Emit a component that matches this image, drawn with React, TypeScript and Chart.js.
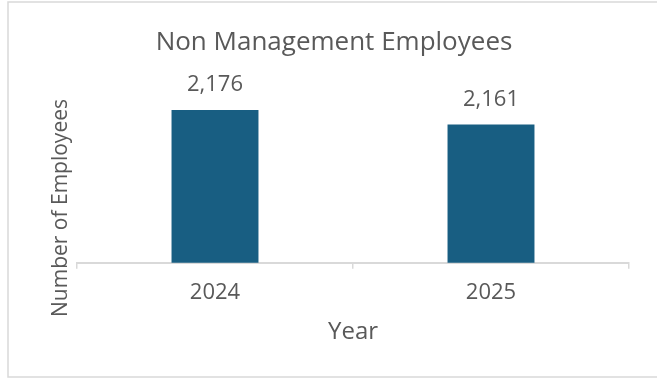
import React, { useEffect, useRef } from "react";
import { Chart, registerables } from "chart.js";

Chart.register(...registerables);

// Headcount of non-management staff by year
const years = ["2024", "2025"];
const employees = [2176, 2161];

const axisMin = 2020;
const axisMax = 2180;

const chartTitle = "Non Management Employees";
const xAxisTitle = "Year";
const yAxisTitle = "Number of Employees";

const FONT = "'Open Sans', 'Liberation Sans', sans-serif";
const TEXT = "#595959";
const BAR = "#185e82";
const LINE = "#d9d9d9";

const fmt = (v: number) => v.toLocaleString("en-US");

// Light frame around the whole chart
const framePlugin = {
  id: "frame",
  beforeDraw(chart: any) {
    const { ctx } = chart;
    ctx.save();
    ctx.fillStyle = "#ffffff";
    ctx.fillRect(0, 0, chart.width, chart.height);
    ctx.strokeStyle = LINE;
    ctx.lineWidth = 1.5;
    ctx.strokeRect(8, 2, chart.width + 20, 375);
    ctx.restore();
  },
};

// Chart heading, centred on the framed card rather than the plot area
const headingPlugin = {
  id: "heading",
  afterDraw(chart: any) {
    const { ctx } = chart;
    ctx.save();
    ctx.font = `26px ${FONT}`;
    ctx.fillStyle = TEXT;
    ctx.textAlign = "center";
    ctx.textBaseline = "middle";
    ctx.fillText(chartTitle, 334, 43);
    ctx.restore();
  },
};

// Value labels above each bar
const valueLabelPlugin = {
  id: "valueLabels",
  afterDatasetsDraw(chart: any) {
    const { ctx } = chart;
    const meta = chart.getDatasetMeta(0);
    ctx.save();
    ctx.font = `22px ${FONT}`;
    ctx.fillStyle = TEXT;
    ctx.textAlign = "center";
    ctx.textBaseline = "middle";
    meta.data.forEach((bar: any, i: number) => {
      const v = chart.data.datasets[0].data[i] as number;
      ctx.fillText(fmt(v), bar.x, bar.y - 25);
    });
    ctx.restore();
  },
};

// Rotated y-axis title, placed beside the plot
const yTitlePlugin = {
  id: "yTitle",
  afterDraw(chart: any) {
    const { ctx } = chart;
    ctx.save();
    ctx.translate(61, 208);
    ctx.rotate(-Math.PI / 2);
    ctx.font = `21px ${FONT}`;
    ctx.fillStyle = TEXT;
    ctx.textAlign = "center";
    ctx.textBaseline = "middle";
    ctx.fillText(yAxisTitle, 0, 0);
    ctx.restore();
  },
};

export default function App() {
  const canvasRef = useRef<HTMLCanvasElement | null>(null);

  useEffect(() => {
    if (!canvasRef.current) return;
    const chart = new Chart(canvasRef.current, {
      type: "bar",
      data: {
        labels: years,
        datasets: [
          {
            data: employees,
            backgroundColor: BAR,
            categoryPercentage: 1,
            barPercentage: 0.315,
          },
        ],
      },
      options: {
        responsive: false,
        animation: false,
        devicePixelRatio: 1,
        layout: { padding: { left: 77, right: 28, top: 106, bottom: 34 } },
        plugins: {
          legend: { display: false },
          tooltip: { enabled: false },
          title: { display: false },
        },
        scales: {
          x: {
            grid: {
              display: true,
              drawOnChartArea: false,
              drawTicks: true,
              tickLength: 6,
              color: LINE,
              lineWidth: 1.5,
              offset: true,
            },
            border: { display: true, color: LINE, width: 2 },
            ticks: {
              color: TEXT,
              font: { family: FONT, size: 22 },
              padding: 11,
            },
            title: {
              display: true,
              text: xAxisTitle,
              color: TEXT,
              font: { family: FONT, size: 24 },
              padding: { top: 1, bottom: 0 },
            },
          },
          y: {
            display: false,
            min: axisMin,
            max: axisMax,
          },
        },
      },
      plugins: [framePlugin, headingPlugin, valueLabelPlugin, yTitlePlugin],
    });
    return () => chart.destroy();
  }, []);

  return (
    <div
      style={{
        position: "absolute",
        left: 0,
        top: 0,
        width: 657,
        height: 381,
        background: "#ffffff",
      }}
    >
      <canvas ref={canvasRef} width={657} height={381} />
    </div>
  );
}
